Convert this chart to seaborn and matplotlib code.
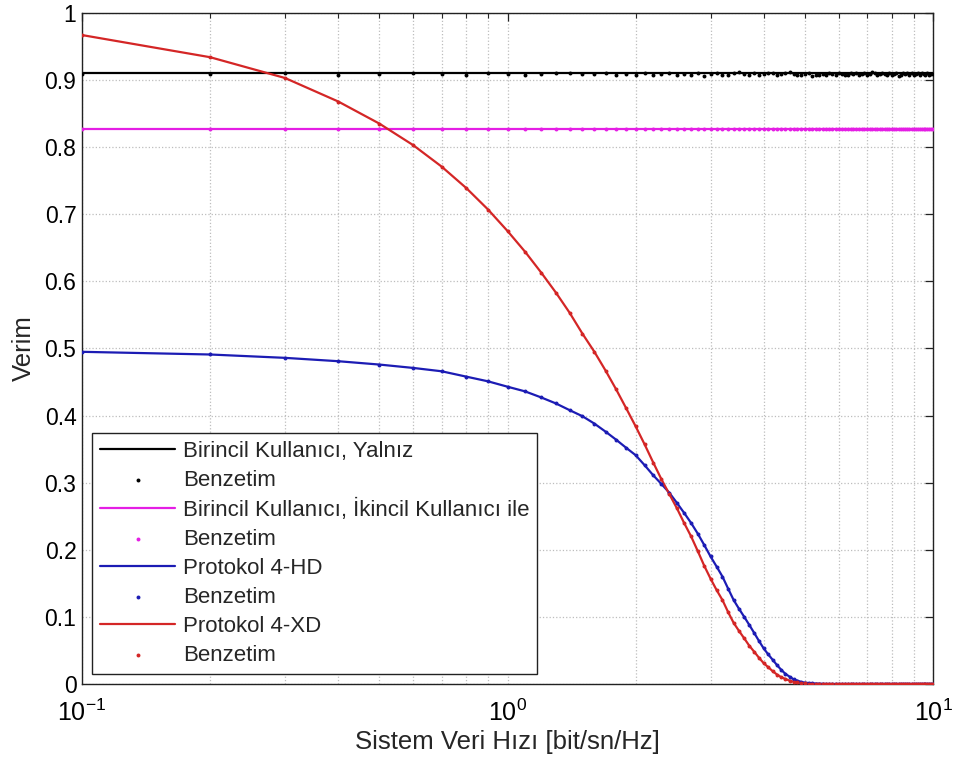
import matplotlib
matplotlib.use("Agg")
import matplotlib.pyplot as plt
import seaborn as sns
from matplotlib.ticker import FixedLocator, FormatStrFormatter, LogLocator

# system data rate [bit/sn/Hz], simulation grid
rate = [0.1, 0.2, 0.3, 0.4, 0.5, 0.6, 0.7, 0.8, 0.9, 1.0,
        1.1, 1.2, 1.3, 1.4, 1.5, 1.6, 1.7, 1.8, 1.9, 2.0,
        2.1, 2.2, 2.3, 2.4, 2.5, 2.6, 2.7, 2.8, 2.9, 3.0,
        3.1, 3.2, 3.3, 3.4, 3.5, 3.6, 3.7, 3.8, 3.9, 4.0,
        4.1, 4.2, 4.3, 4.4, 4.5, 4.6, 4.7, 4.8, 4.9, 5.0,
        5.1, 5.2, 5.3, 5.4, 5.5, 5.6, 5.7, 5.8, 5.9, 6.0,
        6.1, 6.2, 6.3, 6.4, 6.5, 6.6, 6.7, 6.8, 6.9, 7.0,
        7.1, 7.2, 7.3, 7.4, 7.5, 7.6, 7.7, 7.8, 7.9, 8.0,
        8.1, 8.2, 8.3, 8.4, 8.5, 8.6, 8.7, 8.8, 8.9, 9.0,
        9.1, 9.2, 9.3, 9.4, 9.5, 9.6, 9.7, 9.8, 9.9, 10.0]

primary_alone = [0.910] * 100
primary_alone_sim = [0.909, 0.909, 0.910, 0.908, 0.909, 0.911, 0.909, 0.908, 0.910, 0.909,
                     0.907, 0.909, 0.910, 0.911, 0.909, 0.909, 0.910, 0.908, 0.909, 0.908,
                     0.911, 0.907, 0.909, 0.910, 0.908, 0.909, 0.908, 0.910, 0.906, 0.909,
                     0.911, 0.908, 0.907, 0.910, 0.912, 0.909, 0.908, 0.910, 0.907, 0.909,
                     0.911, 0.910, 0.908, 0.909, 0.910, 0.912, 0.909, 0.908, 0.907, 0.909,
                     0.910, 0.906, 0.908, 0.907, 0.909, 0.908, 0.911, 0.909, 0.908, 0.910,
                     0.909, 0.907, 0.908, 0.910, 0.909, 0.911, 0.908, 0.909, 0.910, 0.908,
                     0.909, 0.912, 0.910, 0.908, 0.909, 0.911, 0.909, 0.908, 0.910, 0.907,
                     0.909, 0.911, 0.906, 0.908, 0.910, 0.909, 0.911, 0.908, 0.910, 0.907,
                     0.909, 0.911, 0.908, 0.910, 0.909, 0.907, 0.910, 0.908, 0.909, 0.909]

primary_with_secondary = [0.827] * 100
primary_with_secondary_sim = [0.827] * 100

protocol_hd = [0.495, 0.491, 0.486, 0.481, 0.476, 0.471, 0.466, 0.458, 0.451, 0.443,
               0.436, 0.427, 0.418, 0.408, 0.399, 0.388, 0.376, 0.364, 0.352, 0.341,
               0.326, 0.311, 0.298, 0.285, 0.270, 0.255, 0.240, 0.224, 0.207, 0.190,
               0.175, 0.160, 0.142, 0.125, 0.112, 0.100, 0.088, 0.076, 0.064, 0.053,
               0.044, 0.036, 0.028, 0.021, 0.015, 0.011, 0.007, 0.005, 0.003, 0.002,
               0.0015, 0.001, 0.0007, 0.0005, 0.0003] + [0.0] * 45

protocol_xd = [0.967, 0.934, 0.903, 0.868, 0.835, 0.803, 0.771, 0.739, 0.707, 0.675,
               0.644, 0.613, 0.583, 0.553, 0.522, 0.495, 0.467, 0.439, 0.411, 0.384,
               0.357, 0.330, 0.305, 0.283, 0.262, 0.240, 0.220, 0.198, 0.176, 0.157,
               0.140, 0.125, 0.107, 0.091, 0.079, 0.068, 0.057, 0.048, 0.039, 0.031,
               0.025, 0.019, 0.014, 0.010, 0.0075, 0.005, 0.0035, 0.0025, 0.0015, 0.001] + [0.0] * 50

protocol_hd_sim = protocol_hd
protocol_xd_sim = protocol_xd

series = [
    ("Birincil Kullanıcı, Yalnız", primary_alone, primary_alone_sim, "#000000"),
    ("Birincil Kullanıcı, İkincil Kullanıcı ile", primary_with_secondary,
     primary_with_secondary_sim, "#e41ee4"),
    ("Protokol 4-HD", protocol_hd, protocol_hd_sim, "#1c1cb4"),
    ("Protokol 4-XD", protocol_xd, protocol_xd_sim, "#d42626"),
]

sns.set_style("white")
plt.rcParams["font.family"] = ["Liberation Sans", "DejaVu Sans"]
plt.rcParams["mathtext.fontset"] = "custom"
plt.rcParams["mathtext.rm"] = "Liberation Sans"
plt.rcParams["mathtext.it"] = "Liberation Sans:italic"
plt.rcParams["axes.unicode_minus"] = False

fig, ax = plt.subplots(figsize=(9.55, 7.6), dpi=100)
fig.subplots_adjust(left=0.0859, right=0.977, bottom=0.1, top=0.983)

for name, theory, sim, color in series:
    sns.lineplot(x=rate, y=theory, ax=ax, color=color, linewidth=1.6,
                 label=name, sort=False, errorbar=None)
    sns.scatterplot(x=rate, y=sim, ax=ax, color=color, marker="o", s=8,
                    linewidth=0, label="Benzetim", zorder=3)

ax.set_xscale("log")
ax.set_xlim(0.1, 10)
ax.set_ylim(0, 1)
ax.yaxis.set_major_locator(FixedLocator([0, 0.1, 0.2, 0.3, 0.4, 0.5, 0.6, 0.7, 0.8, 0.9, 1.0]))
ax.yaxis.set_major_formatter(FormatStrFormatter("%g"))
ax.xaxis.set_major_locator(LogLocator(base=10))
ax.xaxis.set_minor_locator(LogLocator(base=10, subs=range(2, 10)))

ax.grid(True, which="major", axis="both", linestyle=":", color="#bdbdbd", linewidth=0.9)
ax.grid(True, which="minor", axis="x", linestyle=":", color="#bdbdbd", linewidth=0.9)

ax.tick_params(which="major", direction="in", length=6, width=0.9, top=True, right=True,
               labelsize=16.5, colors="#222222", labelcolor="black")
ax.tick_params(which="minor", direction="in", length=3.5, width=0.8, top=True, right=True)
ax.tick_params(axis="x", which="major", pad=11, labelsize=18)
ax.tick_params(axis="y", which="major", pad=4)
for spine in ax.spines.values():
    spine.set_visible(True)
    spine.set_color("#222222")
    spine.set_linewidth(1.0)

ax.set_xlabel("Sistem Veri Hızı [bit/sn/Hz]", fontsize=18.5, labelpad=3)
ax.set_ylabel("Verim", fontsize=18.5, labelpad=6)

handles, labels = ax.get_legend_handles_labels()
leg = ax.legend(handles, labels, loc="lower left", fontsize=16, frameon=True,
                fancybox=False, framealpha=1, edgecolor="#222222", borderpad=0.35,
                labelspacing=0.36, handlelength=3.4, handletextpad=0.35,
                borderaxespad=0.45, scatterpoints=1, markerscale=1.0)
leg.get_frame().set_linewidth(1.0)

fig.savefig("out.png", dpi=100)
